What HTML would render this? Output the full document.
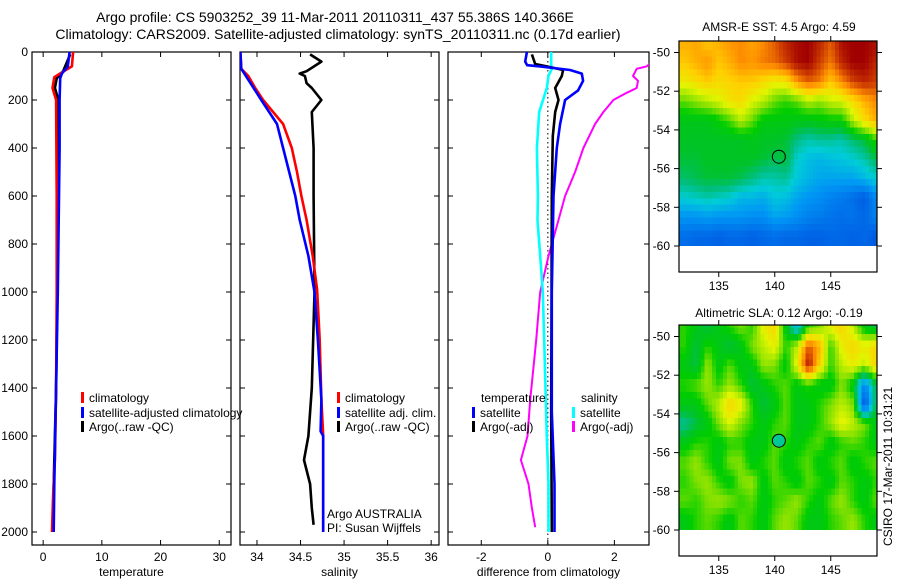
<!DOCTYPE html>
<html><head><meta charset="utf-8"><style>
html,body{margin:0;padding:0;background:#fff;}
svg{display:block;font-family:"Liberation Sans",sans-serif;}
</style></head><body>
<svg id="fig" width="900" height="580" viewBox="0 0 900 580">
<text x="335" y="22" font-size="14" text-anchor="middle">Argo profile: CS 5903252_39 11-Mar-2011 20110311_437 55.386S 140.366E</text>
<text x="338" y="39" font-size="14" text-anchor="middle">Climatology: CARS2009. Satellite-adjusted climatology: synTS_20110311.nc (0.17d earlier)</text>
<text x="779" y="31" font-size="12" text-anchor="middle">AMSR-E SST: 4.5 Argo: 4.59</text>
<text x="779" y="317" font-size="12" text-anchor="middle">Altimetric SLA: 0.12 Argo: -0.19</text>
<text transform="translate(892,546) rotate(-90)" font-size="12">CSIRO 17-Mar-2011 10:31:21</text>
</svg>
<script>
// ---------- data ----------
const depthTicks=[0,200,400,600,800,1000,1200,1400,1600,1800,2000];
const tempTicks=[0,10,20,30];
const salTicks=[34,34.5,35,35.5,36];
const salTickLabels=["34","34.5","35","35.5","36"];
const diffTicks=[-2,0,2];
const lonTicks=[135,140,145];
const latTicks=[-50,-52,-54,-56,-58,-60];

const tClimDepth=[0,60,85,105,150,200,600,1000,1400,1700,1850,2000];
const tClimVal=[5.1,4.9,3.2,1.9,1.6,2.2,2.3,2.3,2.2,2.0,1.7,1.5];
const tSatDepth=[0,60,90,110,200,400,1000,1400,1800,2000];
const tSatVal=[4.5,4.2,3.2,2.9,2.8,2.8,2.5,2.2,1.9,1.8];
const tArgoDepth=[10,80,110,150,200,260,600,1000,1400,1700,2000];
const tArgoVal=[4.6,3.4,2.3,2.0,2.6,2.6,2.5,2.4,2.2,1.9,1.6];

const sClimDepth=[0,70,100,150,200,300,400,500,600,700,850,990,1200,1450,1600,2000];
const sClimVal=[33.81,33.82,33.90,33.98,34.07,34.30,34.40,34.46,34.51,34.57,34.64,34.69,34.72,34.74,34.76,34.76];
const sSatDepth=[0,70,200,300,400,600,700,850,1000,1200,1450,1580,1600,2000];
const sSatVal=[33.81,33.82,34.05,34.23,34.30,34.44,34.49,34.59,34.66,34.70,34.74,34.73,34.76,34.76];
const sArgoDepth=[10,40,80,90,100,130,150,200,250,400,600,1000,1400,1500,1600,1700,1800,1900,1970];
const sArgoVal=[34.61,34.74,34.57,34.49,34.55,34.57,34.63,34.74,34.63,34.65,34.65,34.66,34.63,34.61,34.59,34.54,34.61,34.63,34.65];

const dTSatDepth=[0,40,55,60,75,90,120,160,200,300,400,600,1000,1500,1800,2000];
const dTSatVal=[-0.63,-0.68,-0.62,-0.23,0.67,1.02,1.06,0.91,0.52,0.37,0.27,0.17,0.12,0.12,0.2,0.2];
const dTArgoDepth=[10,50,60,75,100,150,200,250,350,600,1500,2000];
const dTArgoVal=[-0.48,-0.38,-0.03,0.46,0.42,0.22,0.32,0.22,0.15,0.12,0.1,0.12];
const dSSatDepth=[0,50,70,100,150,250,400,600,700,850,1000,1200,1450,1600,1800,2000];
const dSSatVal=[0.1,0.1,0.12,0.02,-0.03,-0.26,-0.33,-0.3,-0.31,-0.23,-0.15,-0.11,-0.06,-0.03,0.02,0.02];
const dSArgoDepth=[45,60,70,100,120,150,170,200,250,300,400,500,600,700,850,1000,1200,1450,1600,1700,1800,1900,1980];
const dSArgoVal=[3.1,2.97,2.67,2.56,2.71,2.67,2.37,1.97,1.67,1.42,1.07,0.82,0.52,0.32,0.02,-0.23,-0.35,-0.53,-0.61,-0.81,-0.58,-0.48,-0.38];

const gridLons=[132,133,134,135,136,137,138,139,140,141,142,143,144,145,146,147,148,149];
const gridLats=[-49.5,-50.5,-51.5,-52.5,-53.5,-54.5,-55.5,-56.5,-57.5,-58.5,-59.5];
const sstGrid=[
[7.2,7.3,7.0,7.2,7.4,7.5,7.3,7.5,7.8,8.2,8.4,8.5,8.2,7.8,8.4,8.5,8.5,8.4],
[7.0,7.2,7.4,7.0,7.2,7.5,7.4,7.6,7.7,8.0,8.4,8.5,8.0,7.6,8.2,8.5,8.5,8.2],
[6.6,6.8,7.0,6.8,6.9,7.0,7.0,6.8,6.6,6.7,7.4,7.8,7.6,7.0,7.5,8.0,8.2,8.0],
[5.8,6.0,6.2,6.4,6.7,6.8,6.4,6.2,5.8,5.6,5.8,6.2,6.0,6.3,6.4,6.8,7.2,7.5],
[5.2,5.2,5.2,5.4,5.7,6.2,5.8,5.3,5.3,5.3,5.2,5.2,5.3,5.4,5.4,6.2,6.8,7.2],
[5.1,5.1,5.1,5.1,5.1,5.1,5.2,5.1,5.1,5.0,4.7,4.5,4.6,4.6,4.5,4.8,5.0,5.6],
[5.0,5.0,5.1,5.1,5.1,5.1,5.1,5.0,4.9,5.0,4.3,4.1,4.0,4.1,4.2,4.3,4.5,4.9],
[4.8,4.9,5.0,5.0,5.0,4.9,4.7,4.5,4.5,4.6,4.2,4.0,3.8,3.8,3.8,3.8,4.0,4.3],
[4.3,4.4,4.5,4.4,4.3,4.0,4.0,3.9,4.2,4.1,3.8,3.6,3.5,3.3,3.2,3.0,2.7,3.4],
[3.6,3.6,3.7,3.6,3.6,3.6,3.5,3.5,3.8,3.7,3.5,3.3,3.2,3.1,3.0,3.1,2.9,3.3],
[3.0,2.9,2.9,2.8,2.9,2.9,2.8,2.9,3.0,2.9,2.9,2.8,2.8,2.9,2.9,2.8,2.9,2.7]];
const slaGrid=[
[0.05,0.0,-0.05,0.0,0.05,0.1,0.05,0.2,0.25,0.0,-0.2,0.05,0.1,0.2,0.25,0.15,0.0,-0.05],
[0.05,-0.05,0.05,0.0,-0.05,0.0,0.1,0.15,0.2,0.05,0.15,0.4,0.3,0.05,0.2,0.25,0.2,0.25],
[0.0,-0.05,0.12,0.0,0.08,0.0,0.0,0.12,0.1,0.0,0.2,0.48,0.25,0.05,0.15,0.2,0.15,0.25],
[0.05,0.08,0.12,0.05,0.12,0.05,-0.05,0.0,0.05,0.08,0.0,0.05,0.0,0.0,0.1,0.0,-0.3,-0.05],
[0.0,0.0,0.08,0.15,0.25,0.2,0.05,-0.05,0.0,0.08,0.0,0.0,0.05,0.1,0.15,0.1,-0.42,-0.05],
[-0.1,-0.05,0.0,0.1,0.18,0.1,0.05,0.0,0.05,0.08,0.0,0.0,0.05,0.12,0.2,0.15,0.1,0.0],
[0.0,0.05,0.05,0.0,0.05,0.05,0.0,0.0,0.08,0.05,0.0,0.05,0.08,0.0,0.05,0.08,0.05,0.0],
[0.08,0.12,0.05,0.0,0.1,0.1,0.0,0.05,0.08,0.0,0.05,0.08,0.0,0.05,0.08,0.0,0.05,0.08],
[0.05,0.1,0.12,0.05,0.0,0.1,0.12,0.0,0.08,0.05,0.0,0.08,0.05,0.0,0.08,0.05,0.0,0.05],
[0.08,0.05,0.1,0.12,0.1,0.05,0.08,0.0,0.05,0.08,0.12,0.05,0.0,0.08,0.12,0.05,0.0,0.08],
[0.0,0.05,0.08,0.05,0.0,0.08,0.05,0.0,0.08,0.12,0.08,0.0,0.0,0.05,0.08,0.12,0.05,0.0]];
const argoLon=140.366, argoLat=-55.386;

// ---------- helpers ----------
const svg=document.getElementById('fig');
const NS='http://www.w3.org/2000/svg';
function mk(tag,attrs,parent){const e=document.createElementNS(NS,tag);for(const k in attrs)e.setAttribute(k,attrs[k]);(parent||svg).appendChild(e);return e;}
function txt(x,y,s,size,anchor,parent){const t=mk('text',{x:x,y:y,'font-size':size,'text-anchor':anchor||'start'},parent);t.textContent=s;return t;}

const PT=52,PB=545;
const depthY=d=>PT+d*0.24;
const panels=[
 {name:'temperature',x0:32,x1:231,lo:-1.9,hi:32},
 {name:'salinity',x0:240,x1:439,lo:33.805,hi:36.09},
 {name:'difference',x0:448,x1:649,lo:-3,hi:3.04}];
function sx(p,v){return p.x0+(v-p.lo)/(p.hi-p.lo)*(p.x1-p.x0);}

function drawPanel(p,ticks,tickLabels,xlabel,showY){
 const g=mk('g',{});
 
 
 const clip=mk('clipPath',{id:'clip-'+p.name},g);
 mk('rect',{x:p.x0,y:PT,width:p.x1-p.x0,height:PB-PT},clip);
 mk('rect',{x:p.x0,y:PT,width:p.x1-p.x0,height:PB-PT,fill:'none',stroke:'#000','stroke-width':1.2},g);
 depthTicks.forEach(d=>{
  const y=depthY(d);
  mk('line',{x1:p.x0,y1:y,x2:p.x0+5,y2:y,stroke:'#000'},g);
  mk('line',{x1:p.x1,y1:y,x2:p.x1-5,y2:y,stroke:'#000'},g);
  if(showY){const t=txt(p.x0-4,y+4,String(d),12,'end',g);
   
   }
 });
 ticks.forEach((v,i)=>{
  const x=sx(p,v);
  mk('line',{x1:x,y1:PB,x2:x,y2:PB-5,stroke:'#000'},g);
  mk('line',{x1:x,y1:PT,x2:x,y2:PT+5,stroke:'#000'},g);
  const t=txt(x,561,tickLabels[i],12,'middle',g);
  
  
 });
 const xl=txt((p.x0+p.x1)/2,576,xlabel,12,'middle',g);
 
 
 return g;
}
function profile(p,g,depths,vals,color,name,w){
 const pts=depths.map((d,i)=>sx(p,vals[i]).toFixed(1)+','+depthY(d).toFixed(1));
 const l=mk('polyline',{points:pts.join(' '),fill:'none',stroke:color,'stroke-width':w||2.6,'stroke-linejoin':'round','clip-path':'url(#clip-'+p.name+')'},g);
 
 
}
function legend(g,x,y,color,label,name){
 mk('rect',{x:x,y:y-10,width:3,height:11,fill:color},g);
 const t=txt(x+8,y,label,12,'start',g);
 
 
}

// panel 1
const g1=drawPanel(panels[0],tempTicks,tempTicks.map(String),'temperature',true);
profile(panels[0],g1,tArgoDepth,tArgoVal,'#000','temp-argo-line');
profile(panels[0],g1,tClimDepth,tClimVal,'#f00','temp-climatology-line');
profile(panels[0],g1,tSatDepth,tSatVal,'#00f','temp-satellite-line');
legend(g1,81,402,'#f00','climatology','legend-climatology');
legend(g1,81,417,'#00f','satellite-adjusted climatology','legend-satellite');
legend(g1,81,431,'#000','Argo(..raw -QC)','legend-argo');

// panel 2
const g2=drawPanel(panels[1],salTicks,salTickLabels,'salinity',false);
profile(panels[1],g2,sArgoDepth,sArgoVal,'#000','sal-argo-line');
profile(panels[1],g2,sClimDepth,sClimVal,'#f00','sal-climatology-line');
profile(panels[1],g2,sSatDepth,sSatVal,'#00f','sal-satellite-line');
legend(g2,337,402,'#f00','climatology','legend-sal-climatology');
legend(g2,337,417,'#00f','satellite adj. clim.','legend-sal-satellite');
legend(g2,337,431,'#000','Argo(..raw -QC)','legend-sal-argo');
txt(327,518,'Argo AUSTRALIA',12,'start',g2);
txt(327,532,'PI: Susan Wijffels',12,'start',g2);

// panel 3
const p3=panels[2];
const g3=drawPanel(p3,diffTicks,diffTicks.map(String),'difference from climatology',false);
mk('line',{x1:sx(p3,0),y1:PT,x2:sx(p3,0),y2:PB,stroke:'#000','stroke-dasharray':'1.5,3'},g3);
profile(p3,g3,dSArgoDepth,dSArgoVal,'#f0f','sal-argo-diff-line',2);
profile(p3,g3,dSSatDepth,dSSatVal,'#0ff','sal-satellite-diff-line');
profile(p3,g3,dTArgoDepth,dTArgoVal,'#000','temp-argo-diff-line');
profile(p3,g3,dTSatDepth,dTSatVal,'#00f','temp-satellite-diff-line');
txt(481,402,'temperature',12,'start',g3);
txt(581,402,'salinity',12,'start',g3);
legend(g3,472,417,'#00f','satellite','legend-temp-satellite');
legend(g3,472,431,'#000','Argo(-adj)','legend-temp-argo');
legend(g3,572,417,'#0ff','satellite','legend-sal-satellite-diff');
legend(g3,572,431,'#f0f','Argo(-adj)','legend-sal-argo-diff');

// ---------- maps ----------
const cstops=[[0,[0,40,190]],[0.13,[0,100,230]],[0.25,[0,150,245]],[0.35,[0,205,215]],[0.42,[0,190,120]],[0.47,[0,195,40]],[0.53,[0,205,0]],[0.6,[128,224,0]],[0.68,[224,245,0]],[0.76,[255,208,0]],[0.84,[255,144,0]],[0.92,[208,64,0]],[1,[160,0,0]]];
function cmap(v){v=Math.max(0,Math.min(1,v));for(let i=1;i<cstops.length;i++){if(v<=cstops[i][0]){const a=cstops[i-1],b=cstops[i],f=(v-a[0])/(b[0]-a[0]);const c=a[1].map((q,k)=>Math.round(q+(b[1][k]-q)*f));return 'rgb('+c.join(',')+')';}}return 'rgb(160,0,0)';}
function sample(grid,lon,lat){
 let fc=lon-gridLons[0], fr=(gridLats[0]-lat);
 fc=Math.max(0,Math.min(gridLons.length-1.001,fc)); fr=Math.max(0,Math.min(gridLats.length-1.001,fr));
 const c=Math.floor(fc),r=Math.floor(fr),a=fc-c,b=fr-r;
 return grid[r][c]*(1-a)*(1-b)+grid[r][c+1]*a*(1-b)+grid[r+1][c]*(1-a)*b+grid[r+1][c+1]*a*b;
}
function drawMap(name,top,grid,norm,dotFill){
 const X0=679,X1=877,H=231,B=top+H;
 const lonX=l=>X0+(l-131.45)*11.2;
 const lat50=top+11.5;
 const latY=a=>lat50+(-50-a)*19.35;
 const g=mk('g',{});
 
 
 const clip=mk('clipPath',{id:'clip-'+name},g);
 mk('rect',{x:X0,y:top,width:X1-X0,height:latY(-60)-top},clip);
 const cells=mk('g',{'clip-path':'url(#clip-'+name+')','shape-rendering':'crispEdges'},g);
 const step=1/3;
 for(let lat=-49.2;lat>-60.2;lat-=step)for(let lon=131.4;lon<149.3;lon+=step){
  const v=sample(grid,lon+step/2,lat-step/2);
  const cell=mk('rect',{x:lonX(lon).toFixed(1),y:latY(lat).toFixed(1),width:(11.2*step+0.6).toFixed(1),height:(19.35*step+0.6).toFixed(1),fill:cmap(norm(v))},cells);
  
  
 }
 mk('rect',{x:X0,y:top,width:X1-X0,height:H,fill:'none',stroke:'#000','stroke-width':1.2},g);
 latTicks.forEach(a=>{const y=latY(a);
  mk('line',{x1:X0,y1:y,x2:X0-5,y2:y,stroke:'#000'},g);
  mk('line',{x1:X1,y1:y,x2:X1+5,y2:y,stroke:'#000'},g);
  const t=txt(X0-9,y+4,String(a),12,'end',g);
  
  });
 lonTicks.forEach(l=>{const x=lonX(l);
  mk('line',{x1:x,y1:top,x2:x,y2:top-5,stroke:'#000'},g);
  mk('line',{x1:x,y1:B,x2:x,y2:B+5,stroke:'#000'},g);
  const t=txt(x,B+18,String(l),12,'middle',g);
  
  });
 const m=mk('circle',{cx:lonX(argoLon),cy:latY(argoLat),r:6.5,fill:dotFill,stroke:'#000','stroke-width':1},g);
 
 
}
drawMap('sst-map',41,sstGrid,t=>(t-2)/6.5,'none');
drawMap('sla-map',325,slaGrid,s=>0.5+s,'rgb(0,200,150)');
</script>
</body></html>
